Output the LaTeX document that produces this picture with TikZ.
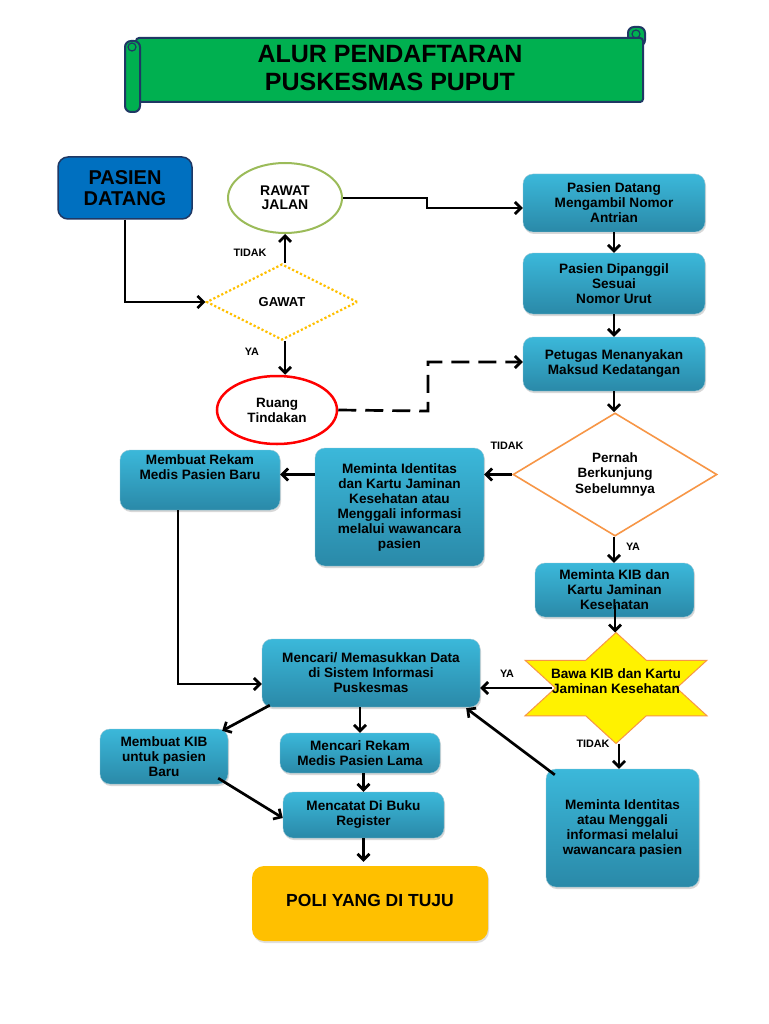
\documentclass[tikz,border=0pt]{standalone}
\usepackage{fontspec}
\setmainfont{Liberation Sans}
\usetikzlibrary{shapes.geometric,arrows.meta,shadows,calc}
\definecolor{cyanT}{HTML}{3BB8DA}
\definecolor{cyanB}{HTML}{2A89A8}
\definecolor{bannerG}{HTML}{00B050}
\definecolor{navy}{HTML}{1F3864}
\definecolor{blueP}{HTML}{0070C0}
\definecolor{greenE}{HTML}{9BBB59}
\definecolor{goldD}{HTML}{FFC000}
\definecolor{orangeD}{HTML}{F79646}
\definecolor{poliC}{HTML}{FFC000}
\begin{document}
\begin{tikzpicture}[x=1pt,y=-1pt,
  cbox/.style={rectangle, rounded corners=10pt, top color=cyanT, bottom color=cyanB,
    draw=cyanB!50!white, line width=0.4pt,
    drop shadow={shadow xshift=1pt,shadow yshift=-2pt,opacity=0.3},
    align=center, font=\fontsize{13.6}{15}\selectfont\bfseries, inner sep=2pt},
  arr/.style={line width=2.7pt, -{Straight Barb[length=6pt,width=12pt]}},
  lbl/.style={font=\fontsize{10.8}{12}\selectfont\bfseries, inner sep=0pt},
  banner/.style={fill=bannerG, draw=navy, line width=2pt, line join=round}
]
\useasboundingbox (0,0) rectangle (768,1024);
\fill[white] (0,0) rectangle (768,1024);

% ---- banner ----
\draw[banner, rounded corners=6pt] (628,27) rectangle (645,46);
\draw[banner, rounded corners=3pt] (136,38) -- (643,38) -- (643,102) -- (136,102) -- cycle;
\draw[banner, rounded corners=6pt] (125,41) rectangle (140,112);
\draw[navy, line width=1.2pt] (132,47) circle (4);
\draw[navy, line width=1.2pt] (636,34) circle (4);
\node[font=\fontsize{25}{28}\selectfont\bfseries, align=center] (title) at (390,68)
  {ALUR PENDAFTARAN\\PUSKESMAS PUPUT};

% ---- left top ----
\node[rectangle, rounded corners=10pt, fill=blueP, draw=navy, line width=1.5pt,
  minimum width=134pt, minimum height=62pt, align=center,
  font=\fontsize{20}{21}\selectfont\bfseries] (pasien) at (125,188) {PASIEN\\DATANG};
\node[ellipse, draw=greenE, line width=2pt, fill=white, minimum width=114pt, minimum height=70pt,
  inner sep=0pt, align=center, font=\fontsize{14}{14.5}\selectfont\bfseries] (rawat) at (285,198) {RAWAT\\JALAN};
\node[diamond, draw=goldD, line width=2.2pt, dash pattern=on 2.2pt off 2.2pt,
  minimum width=151pt, minimum height=76pt, inner sep=0pt,
  font=\fontsize{13}{14}\selectfont\bfseries] (gawat) at (282,302) {GAWAT};
\node[ellipse, draw=red, line width=2.5pt, fill=white, minimum width=120pt, minimum height=68pt,
  inner sep=0pt, align=center, font=\fontsize{13.5}{15}\selectfont\bfseries] (ruang) at (277,410) {Ruang\\Tindakan};
\node[lbl] (ltidak1) at (250,253) {TIDAK};
\node[lbl] (lya1) at (252,352) {YA};

% ---- right column ----
\node[cbox, minimum width=182pt, minimum height=58pt] (b1) at (614,203) {Pasien Datang\\Mengambil Nomor\\Antrian};
\node[cbox, minimum width=182pt, minimum height=61pt] (b2) at (614,283.5) {Pasien Dipanggil\\Sesuai\\Nomor Urut};
\node[cbox, minimum width=182pt, minimum height=54pt] (b3) at (614,364) {Petugas Menanyakan\\Maksud Kedatangan};
\node[diamond, draw=orangeD, line width=1.6pt, fill=white, minimum width=204pt, minimum height=121pt,
  inner sep=0pt, align=center, font=\fontsize{13.5}{15.5}\selectfont\bfseries] (pernah) at (615,474.5)
  {Pernah\\Berkunjung\\Sebelumnya};
\node[cbox, minimum width=169pt, minimum height=118pt] (ident) at (399.5,507)
  {Meminta Identitas\\dan Kartu Jaminan\\Kesehatan atau\\Menggali informasi\\melalui wawancara\\pasien};
\node[cbox, minimum width=160pt, minimum height=60pt,
  label={[name=rbtext, anchor=north, yshift=-5pt, align=center, inner sep=0pt,
    font=\fontsize{13.6}{15}\selectfont\bfseries]north:{Membuat Rekam\\Medis Pasien Baru}}] (rekambaru) at (200,480) {};
\node[cbox, minimum width=159pt, minimum height=54pt] (kib) at (614.5,590) {Meminta KIB dan\\Kartu Jaminan\\Kesehatan};
\node[lbl] (ltidak2) at (507,446) {TIDAK};
\node[lbl] (lya2) at (633,547) {YA};

% ---- star ----
\begin{scope}[shift={(616,688)}, x=105pt, y=55.5pt]
\draw[fill=yellow, draw=orangeD, line width=1pt, line join=miter]
  (90:1) -- (120:0.5774) -- (150:1) -- (180:0.5774) -- (210:1) -- (240:0.5774) --
  (270:1) -- (300:0.5774) -- (330:1) -- (0:0.5774) -- (30:1) -- (60:0.5774) -- cycle;
\end{scope}
\node[align=center, font=\fontsize{13.6}{15}\selectfont\bfseries, inner sep=0pt] (star) at (616,681.5)
  {Bawa KIB dan Kartu\\Jaminan Kesehatan};
\coordinate (startop) at (615,632.5);
\coordinate (starbot) at (619,743.5);
\coordinate (starleft) at (552,688);
\node[lbl] (lya3) at (507,674) {YA};
\node[lbl] (ltidak3) at (593,744) {TIDAK};

% ---- lower boxes ----
\node[cbox, minimum width=153pt, minimum height=118pt] (mem2) at (622.5,828)
  {Meminta Identitas\\atau Menggali\\informasi melalui\\wawancara pasien};
\node[cbox, minimum width=218pt, minimum height=68pt] (mencari) at (371,673)
  {Mencari/ Memasukkan Data\\di Sistem Informasi\\Puskesmas};
\node[cbox, minimum width=128pt, minimum height=55pt] (kibbaru) at (164,756.5) {Membuat KIB\\untuk pasien\\Baru};
\node[cbox, minimum width=160pt, minimum height=40pt] (rekamlama) at (360,753) {Mencari Rekam\\Medis Pasien Lama};
\node[cbox, minimum width=161pt, minimum height=46pt] (mencatat) at (363.5,815) {Mencatat Di Buku\\Register};
\node[rectangle, rounded corners=12pt, fill=poliC,
  drop shadow={shadow xshift=1pt,shadow yshift=-2pt,opacity=0.25},
  minimum width=236pt, minimum height=75pt, font=\fontsize{17.5}{20}\selectfont\bfseries] (poli) at (370,903.5)
  {\raisebox{6pt}{POLI YANG DI TUJU}};

% ---- connectors ----
\draw[arr] (pasien.south) |- (gawat.west);
\draw[arr] (rawat.south |- gawat.north) -- (rawat.south);
\draw[arr] (rawat.south |- gawat.south) -- (rawat.south |- ruang.north);
\draw[arr] (rawat.east) -- (427,198) -- (427,208) -- ($(b1.west)+(0,5)$);
\draw[arr, dash pattern=on 18pt off 9pt] (ruang.east) -- (428,411) -- (428,362) -- ($(b3.west)+(0,-2)$);
\draw[arr] (b1.south) -- (b2.north);
\draw[arr] (b2.south) -- (b3.north);
\draw[arr] (b3.south) -- (b3.south |- pernah.north);
\draw[arr] (pernah.west) -- (ident.east |- pernah.west);
\draw[arr] (ident.west |- pernah.west) -- (rekambaru.east |- pernah.west);
\draw[arr] ($(rekambaru.south)+(-22,0)$) |- ($(mencari.west)+(0,11)$);
\draw[arr] (b3.south |- pernah.south) -- (b3.south |- kib.north);
\draw[arr] ($(kib.south)+(0.5,-12)$) -- (startop);
\draw[arr] (starleft) -- (starleft -| mencari.east);
\draw[arr] (starbot) -- (starbot |- mem2.north);
\draw[arr] ($(mem2.north west)+(9,6)$) -- ($(mencari.south east)+(-14,1)$);
\draw[arr] ($(mencari.south west)+(8,-2)$) -- ($(kibbaru.north east)+(-6,2)$);
\draw[arr] (rekamlama.north |- mencari.south) -- (rekamlama.north);
\draw[arr] (mencatat.north |- rekamlama.south) -- (mencatat.north);
\draw[arr] ($(kibbaru.south east)+(-10,-6)$) -- ($(mencatat.west)+(0,3)$);
\draw[arr] (mencatat.south) -- ($(mencatat.south |- poli.north)+(0,-4)$);
\end{tikzpicture}
\end{document}
